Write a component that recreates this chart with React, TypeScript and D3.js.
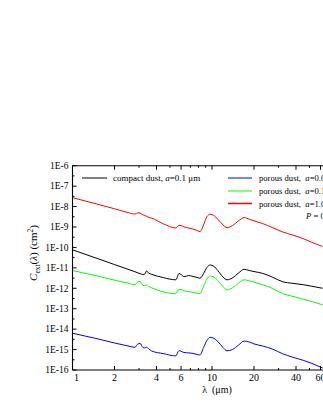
import React from "react";
import * as d3 from "d3";

// wavelength grid (micron)
const lambda = [1, 1.5, 2, 2.5, 2.8, 2.95, 3.05, 3.2, 3.3, 3.4, 3.5, 3.7, 4.5, 5.5, 5.8, 6.0, 6.3, 6.8, 7.3, 7.8, 8.2, 8.7, 9.2, 9.7, 10.3, 11, 12, 12.8, 14, 15.5, 17, 18.5, 20, 23, 27, 32, 38, 45, 52, 62];

const compact01 = [7.6e-11, 2.9e-11, 1.45e-11, 8.5e-12, 6.5e-12, 5.6e-12, 5.25e-12, 4.7e-12, 5.0e-12, 7.1e-12, 5.6e-12, 4.8e-12, 3.3e-12, 2.6e-12, 5.25e-12, 4.7e-12, 3.7e-12, 4.2e-12, 3.8e-12, 3.4e-12, 3.1e-12, 5.25e-12, 1.05e-11, 1.38e-11, 1.2e-11, 7.4e-12, 3.55e-12, 2.6e-12, 3.2e-12, 5.6e-12, 8.5e-12, 7.4e-12, 6.6e-12, 5.4e-12, 3.55e-12, 2.1e-12, 1.74e-12, 1.5e-12, 1.26e-12, 1.0e-12];
const porous001 = [6.3e-15, 3.4e-15, 2.1e-15, 1.5e-15, 1.29e-15, 1.9e-15, 2.0e-15, 1.26e-15, 1.2e-15, 1.32e-15, 1.12e-15, 8.5e-16, 6.3e-16, 4.9e-16, 8.9e-16, 8.3e-16, 7.2e-16, 6.9e-16, 6.5e-16, 5.75e-16, 5.4e-16, 1.26e-15, 2.8e-15, 4.0e-15, 3.55e-15, 2.5e-15, 1.26e-15, 8.7e-16, 1.0e-15, 1.66e-15, 2.6e-15, 2.35e-15, 1.9e-15, 1.5e-15, 1.07e-15, 6.3e-16, 4.2e-16, 3.0e-16, 2.1e-16, 1.26e-16];
const porous01 = [7.4e-12, 4.0e-12, 2.5e-12, 1.78e-12, 1.48e-12, 2.1e-12, 2.14e-12, 1.38e-12, 1.35e-12, 1.48e-12, 1.26e-12, 1.05e-12, 6.6e-13, 5.4e-13, 8.9e-13, 8.7e-13, 7.6e-13, 6.8e-13, 6.3e-13, 5.75e-13, 5.4e-13, 1.26e-12, 2.8e-12, 4.0e-12, 3.55e-12, 2.4e-12, 1.2e-12, 8.3e-13, 1.05e-12, 1.78e-12, 2.6e-12, 2.3e-12, 2.0e-12, 1.5e-12, 1.0e-12, 5.5e-13, 4.0e-13, 2.95e-13, 2.24e-13, 1.55e-13];
const porous10 = [2.72e-8, 1.32e-8, 7.8e-9, 5.1e-9, 4.3e-9, 5.0e-9, 4.8e-9, 3.9e-9, 3.7e-9, 3.3e-9, 3.0e-9, 2.7e-9, 1.41e-9, 8.9e-10, 1.2e-9, 1.17e-9, 1.02e-9, 8.9e-10, 7.9e-10, 6.8e-10, 5.9e-10, 1.26e-9, 3.2e-9, 4.2e-9, 3.7e-9, 2.4e-9, 1.26e-9, 9.3e-10, 1.17e-9, 2.0e-9, 2.9e-9, 2.4e-9, 2.0e-9, 1.48e-9, 9.5e-10, 5.75e-10, 4.0e-10, 2.7e-10, 1.78e-10, 1.1e-10];

const xMajor = [1, 2, 4, 6, 10, 20, 40, 60];
const xMinor = [3, 5, 7, 8, 9, 30, 50];
const yExponents = [-6, -7, -8, -9, -10, -11, -12, -13, -14, -15, -16];

const series = [
  { name: "compact", values: compact01, color: "#000000" },
  { name: "p001", values: porous001, color: "#0000ff" },
  { name: "p01", values: porous01, color: "#00ff00" },
  { name: "p10", values: porous10, color: "#ff0000" },
];

const W = 323;
const H = 418;
const left = 72.5;
const top = 165.7;
const bottom = 370;
const font = "'Liberation Serif', 'DejaVu Serif', serif";
const gap = "\u00a0";

export default function App() {
  const x = d3.scaleLog().domain([1, 65]).range([left, left + 139.5 * Math.log10(65)]);
  const y = d3.scaleLog().domain([1e-16, 1e-6]).range([bottom, top]);
  const right = x(65);

  const line = d3
    .line<number>()
    .x((d, i) => x(lambda[i]))
    .y((d) => y(d))
    .curve(d3.curveMonotoneX);

  const yMinor = yExponents.slice(1).map((e) => Math.pow(10, e + 0.5));

  return (
    <svg
      width={W}
      height={H}
      style={{ position: "absolute", left: 0, top: 0, background: "#fff" }}
      fontFamily={font}
    >
      {/* curves */}
      {series.map((s) => (
        <path key={s.name} d={line(s.values) || ""} fill="none" stroke={s.color} strokeWidth={1} />
      ))}

      {/* frame */}
      <g stroke="#000" strokeWidth={1.1} fill="none">
        <line x1={left} x2={left} y1={top} y2={bottom} />
        <line x1={left} x2={right} y1={top} y2={top} />
        <line x1={left} x2={right} y1={bottom} y2={bottom} />
      </g>

      {/* ticks */}
      <g stroke="#000" strokeWidth={1}>
        {xMajor.map((t) => (
          <g key={"xm" + t}>
            <line x1={x(t)} x2={x(t)} y1={bottom} y2={bottom - 4} />
            <line x1={x(t)} x2={x(t)} y1={top} y2={top + 4} />
          </g>
        ))}
        {xMinor.map((t) => (
          <g key={"xn" + t}>
            <line x1={x(t)} x2={x(t)} y1={bottom} y2={bottom - 2} />
            <line x1={x(t)} x2={x(t)} y1={top} y2={top + 2} />
          </g>
        ))}
        {yExponents.map((e) => (
          <line key={"ym" + e} x1={left} x2={left + 4} y1={y(Math.pow(10, e))} y2={y(Math.pow(10, e))} />
        ))}
        {yMinor.map((v, i) => (
          <line key={"yn" + i} x1={left} x2={left + 2} y1={y(v)} y2={y(v)} />
        ))}
      </g>

      {/* x tick labels */}
      <g fontSize={10} textAnchor="middle" fill="#000">
        {xMajor.map((t) => (
          <text key={"xl" + t} x={x(t) + (t === 1 ? 4 : 0)} y={bottom + 11}>
            {t}
          </text>
        ))}
      </g>

      {/* y tick labels */}
      <g fontSize={9.5} textAnchor="end" fill="#000">
        {yExponents.map((e) => (
          <text key={"yl" + e} x={left - 4} y={y(Math.pow(10, e)) + 3.3}>
            {"1E" + e}
          </text>
        ))}
      </g>

      {/* axis titles */}
      <text x={217} y={393} fontSize={10} textAnchor="middle">
        {"λ" + gap + gap + "(μm)"}
      </text>
      <text transform="translate(37,253) rotate(-90)" fontSize={11} textAnchor="middle">
        <tspan fontStyle="italic">C</tspan>
        <tspan fontSize={7.5} dy={2.5}>ext</tspan>
        <tspan dy={-2.5}>(</tspan>
        <tspan fontStyle="italic">λ</tspan>
        <tspan>{")" + gap + "(cm"}</tspan>
        <tspan fontSize={7.5} dy={-4.5}>2</tspan>
        <tspan dy={4.5}>)</tspan>
      </text>

      {/* legend */}
      <g fontSize={9}>
        <line x1={82} x2={107} y1={178} y2={178} stroke="#000" strokeWidth={1} />
        <text x={113} y={181}>
          {"compact dust, "}<tspan fontStyle="italic">a</tspan>=0.1 μm
        </text>
      </g>
      <g fontSize={8.6}>
        <line x1={228} x2={252} y1={178} y2={178} stroke="#0000ff" strokeWidth={1} />
        <text x={259} y={181}>
          {"porous dust," + gap + gap}<tspan fontStyle="italic">a</tspan>=0.01 μm
        </text>
        <line x1={228} x2={252} y1={191} y2={191} stroke="#00ff00" strokeWidth={1} />
        <text x={259} y={194}>
          {"porous dust," + gap + gap}<tspan fontStyle="italic">a</tspan>=0.1 μm
        </text>
        <line x1={228} x2={252} y1={203.5} y2={203.5} stroke="#ff0000" strokeWidth={1.5} />
        <text x={259} y={206.5}>
          {"porous dust," + gap + gap}<tspan fontStyle="italic">a</tspan>=1.0 μm
        </text>
        <text x={306} y={219}>
          <tspan fontStyle="italic">P</tspan> = 0.5
        </text>
      </g>
    </svg>
  );
}
